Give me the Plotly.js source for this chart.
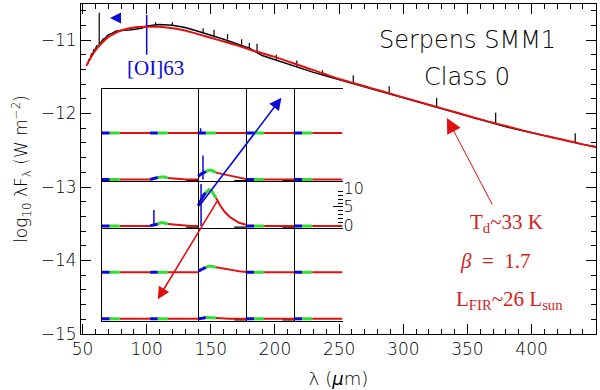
<!DOCTYPE html>
<html>
<head>
<meta charset="utf-8">
<script src="https://cdn.plot.ly/plotly-3.0.1.min.js"></script>
<style>
  html, body { margin: 0; padding: 0; background: #fff; }
  #sed { width: 600px; height: 390px; }
</style>
</head>
<body>
<div id="sed"></div>
<script>
// greybody fit (red)
const lamFit = [53, 56, 60, 65, 70, 75, 80, 90, 100, 110, 120, 130, 140, 150, 160, 170, 180, 190, 200,
  210, 220, 230, 240, 250, 260, 270, 280, 290, 300, 320, 340, 360, 380, 400, 420, 440, 452];
const logFit = [-11.35, -11.25, -11.14, -11.04, -10.96, -10.91, -10.87, -10.83, -10.82, -10.82, -10.84, -10.87, -10.92,
  -10.97, -11.02, -11.07, -11.13, -11.18, -11.23, -11.29, -11.35, -11.41, -11.47, -11.53, -11.58, -11.63, -11.68,
  -11.73, -11.78, -11.88, -11.98, -12.08, -12.17, -12.26, -12.34, -12.42, -12.46];

// observed PACS + SPIRE spectrum (black)
const lamObs = [54, 55, 56, 57, 58, 59, 60, 61, 62, 64, 66, 68, 70, 73, 76, 80, 84, 88, 92, 96, 100, 105, 110,
  120, 130, 140, 150, 160, 170, 180, 190, 200, 210, 220, 230, 240, 250, 260, 270, 280, 290, 300, 310, 320, 330,
  340, 350, 360, 370, 380, 390, 400, 410, 420, 430, 440, 452];
const logObs = [-11.33, -11.27, -11.26, -11.19, -11.19, -11.13, -11.14, -11.08, -11.09, -11.03, -10.99, -10.97,
  -10.93, -10.91, -10.88, -10.87, -10.87, -10.86, -10.85, -10.84, -10.81, -10.80, -10.79, -10.80, -10.83, -10.88,
  -10.93, -10.99, -11.05, -11.11, -11.21, -11.27, -11.33, -11.39, -11.44, -11.49, -11.54, -11.58, -11.63, -11.68,
  -11.73, -11.78, -11.83, -11.88, -11.93, -11.98, -12.04, -12.08, -12.13, -12.18, -12.22, -12.26, -12.30, -12.35,
  -12.38, -12.42, -12.46];

// emission lines on the spectrum
const lamLines  = [63, 107, 120, 144, 152.5, 163, 174, 180, 186, 201, 217, 237, 261, 289, 326, 372, 434];
const baseLines = [-11.08, -10.80, -10.80, -10.91, -10.95, -10.99, -11.06, -11.11, -11.16, -11.27, -11.36, -11.47,
  -11.58, -11.72, -11.90, -12.13, -12.39];
const topLines  = [-10.63, -10.76, -10.76, -10.84, -10.86, -10.92, -10.99, -11.04, -11.05, -11.20, -11.28, -11.41,
  -11.48, -11.63, -11.79, -11.99, -12.27];

// [OI]63 marker
const oiLam = [100, 100];
const oiLog = [-10.66, -11.20];
const oiArrowLam = [71.4];
const oiArrowLog = [-10.70];

// inset: 5x5 spaxel line maps, flux in units of the 0-10 scale
const cellFrac = [0, 0.04, 0.08, 0.12, 0.16, 0.22, 0.28, 0.34, 0.37, 0.45, 0.55, 0.65, 0.75, 0.85, 1.0];
const flat     = [0, 0, 0, 0, 0, 0, 0, 0, 0, 0, 0, 0, 0, 0, 0];
const specR1C1 = [0, 0.1, 0.3, 0.4, 0.5, 0.7, 0.7, 0.5, 0.4, 0.3, 0.1, 0.1, 0, 0, 0];
const specR1C2 = [0.8, 1.3, 1.6, 1.8, 2.1, 2.4, 2.4, 2.1, 1.8, 1.6, 1.3, 1.1, 0.8, 0.4, 0.1];
const specR2C1 = [0, 0.1, 0.3, 0.4, 0.5, 0.8, 0.8, 0.7, 0.5, 0.4, 0.3, 0.1, 0.1, 0, 0];
const specR2C2 = [5.3, 6.3, 7.1, 8.2, 8.7, 9.5, 9.2, 8.2, 7.4, 5.5, 3.7, 2.4, 1.6, 0.8, 0.3];
const specR3C2 = [0.3, 0.5, 0.8, 1.1, 1.3, 1.6, 1.6, 1.4, 1.3, 1.1, 0.8, 0.7, 0.5, 0.3, 0.1];
const specR4C2 = [0, 0, 0.1, 0.2, 0.3, 0.3, 0.3, 0.2, 0.2, 0.1, 0.1, 0, 0, 0, 0];
const cellSpectra = [
  [flat, flat, flat, flat, flat],
  [flat, specR1C1, specR1C2, flat, flat],
  [flat, specR2C1, specR2C2, flat, flat],
  [flat, flat, specR3C2, flat, flat],
  [flat, flat, specR4C2, flat, flat]
];
// line spikes: row, col, position in cell, peak flux
const spikeRow  = [0, 1, 2, 2];
const spikeCol  = [2, 2, 1, 2];
const spikeFrac = [0.05, 0.1, 0.08, 0.06];
const spikeTop  = [1.3, 6.3, 4.2, 11];
// short black continuum marks
const markRow = [1, 1, 1, 2, 2, 2, 4, 4];
const markCol = [1, 2, 3, 1, 2, 3, 2, 3];

const fluxPerRow = 12.2;
const baseLift = 0.05;
const insetDomX = [0.0407, 0.5078];
const insetDomY = [0.0394, 0.7424];

const BLUE = "#0a0ad2", GREEN = "#2ee02e", RED = "#e01010", DRED = "#d41c1c";
const NB = "\u00a0";

function cellY(r, f) { return (4 - r) + baseLift + f / fluxPerRow; }

function bandTrace(i0, i1, color, width) {
  const x = [], y = [];
  cellSpectra.forEach((row, r) => row.forEach((spec, c) => {
    for (let i = i0; i <= i1; i++) { x.push(c + cellFrac[i]); y.push(cellY(r, spec[i])); }
    x.push(null); y.push(null);
  }));
  return { x, y, xaxis: "x2", yaxis: "y2", mode: "lines", line: { color, width }, hoverinfo: "skip" };
}

const lineX = [], lineY = [];
lamLines.forEach((l, i) => { lineX.push(l, l, null); lineY.push(baseLines[i], topLines[i], null); });

const spikeX = [], spikeY = [];
spikeRow.forEach((r, i) => {
  const x = spikeCol[i] + spikeFrac[i];
  spikeX.push(x, x, null); spikeY.push(cellY(r, 0), cellY(r, spikeTop[i]), null);
});

const markX = [], markY = [];
markRow.forEach((r, i) => {
  markX.push(markCol[i] + 0.75, markCol[i] + 1, null);
  markY.push(cellY(r, 0) - 0.025, cellY(r, 0) - 0.025, null);
});

const traces = [
  { x: lamObs, y: logObs, mode: "lines", line: { color: "#000", width: 1.5 } },
  { x: lineX, y: lineY, mode: "lines", line: { color: "#000", width: 1.2 } },
  { x: oiLam, y: oiLog, mode: "lines", line: { color: BLUE, width: 1.5 } },
  { x: oiArrowLam, y: oiArrowLog, mode: "markers", marker: { symbol: "arrow-left", size: 11, color: BLUE } },
  { x: lamFit, y: logFit, mode: "lines", line: { color: RED, width: 2, shape: "spline" } },
  { x: markX, y: markY, xaxis: "x2", yaxis: "y2", mode: "lines", line: { color: "#000", width: 1.2 } },
  bandTrace(8, 14, RED, 2),
  bandTrace(4, 8, GREEN, 3),
  bandTrace(0, 4, BLUE, 3),
  { x: spikeX, y: spikeY, xaxis: "x2", yaxis: "y2", mode: "lines", line: { color: BLUE, width: 1.5 } },
  { x: [null], y: [null], xaxis: "x2", yaxis: "y3", mode: "lines" }
];

const tickFont = { family: "DejaVu Sans", size: 17, color: "#000", weight: 200 };
const fluxDom0 = insetDomY[0] + (insetDomY[1] - insetDomY[0]) / 5 * (2 + baseLift);
const fluxDom1 = fluxDom0 + (insetDomY[1] - insetDomY[0]) / 5 * (10 / fluxPerRow);

const layout = {
  width: 600, height: 390,
  margin: { l: 81, r: 4, t: 4, b: 56 },
  paper_bgcolor: "#fff", plot_bgcolor: "rgba(0,0,0,0)",
  showlegend: false,
  xaxis: {
    range: [48.8, 450.2], tickvals: [50, 100, 150, 200, 250, 300, 350, 400],
    ticks: "inside", ticklen: 10, tickcolor: "#000", mirror: "allticks",
    showline: true, linecolor: "#000", linewidth: 1, showgrid: false, zeroline: false,
    minor: { tickmode: "linear", tick0: 0, dtick: 10, ticks: "inside", ticklen: 5, tickcolor: "#000" },
    tickfont: tickFont,
    title: { text: "λ (<i>μ</i>m)", font: { family: "DejaVu Sans", size: 18, color: "#000", weight: 200 }, standoff: 13 }
  },
  yaxis: {
    range: [-15, -10.51], tickvals: [-15, -14, -13, -12, -11],
    ticks: "inside", ticklen: 10, tickcolor: "#000", mirror: "allticks",
    showline: true, linecolor: "#000", linewidth: 1, showgrid: false, zeroline: false,
    minor: { tickmode: "linear", tick0: 0, dtick: 0.2, ticks: "inside", ticklen: 5, tickcolor: "#000" },
    tickfont: tickFont,
    title: { text: "log<sub>10</sub> λF<sub>λ</sub> (W m<sup>−2</sup>)", font: { family: "DejaVu Sans", size: 17, color: "#000", weight: 200 }, standoff: 8 }
  },
  xaxis2: {
    domain: insetDomX, anchor: "y2", range: [0, 5],
    showline: true, mirror: true, linecolor: "#000", linewidth: 1.2,
    tickvals: [2, 3, 4], showticklabels: false, ticks: "",
    showgrid: true, gridcolor: "#000", gridwidth: 1.2, zeroline: false
  },
  yaxis2: {
    domain: insetDomY, anchor: "x2", range: [0, 5],
    showline: true, linecolor: "#000", linewidth: 1.2,
    tickvals: [2, 3], showticklabels: false, ticks: "",
    showgrid: true, gridcolor: "#000", gridwidth: 1.2, zeroline: false
  },
  yaxis3: {
    domain: [fluxDom0, fluxDom1], anchor: "x2", side: "right", range: [-0.01, 10.01],
    tickvals: [0, 5, 10], ticks: "inside", ticklen: 10, tickcolor: "#000",
    minor: { tickmode: "linear", tick0: 0, dtick: 1, ticks: "inside", ticklen: 5, tickcolor: "#000" },
    showline: false, showgrid: false, zeroline: false,
    tickfont: { family: "DejaVu Sans", size: 16, color: "#000", weight: 200 }
  },
  annotations: [
    { x: 349.7, y: -11.0, text: "Serpens SMM1", showarrow: false,
      font: { family: "DejaVu Sans", size: 24, color: "#000", weight: 200 } },
    { x: 349.7, y: -11.5, text: "Class 0", showarrow: false,
      font: { family: "DejaVu Sans", size: 24, color: "#000", weight: 200 } },
    { x: 106.5, y: -11.38, text: "[OI]63", showarrow: false,
      font: { family: "Liberation Serif", size: 21, color: BLUE } },
    { x: 380.8, y: -13.49, text: "T<sub>d</sub>~33" + NB + "K", showarrow: false,
      font: { family: "Liberation Serif", size: 21, color: DRED } },
    { x: 371.5, y: -14.01, text: "<i>β</i>" + NB + NB + "=" + NB + NB + "1.7", showarrow: false,
      font: { family: "Liberation Serif", size: 21, color: DRED } },
    { x: 383, y: -14.54, text: "L<sub>FIR</sub>~26" + NB + "L<sub>sun</sub>", showarrow: false,
      font: { family: "Liberation Serif", size: 21, color: DRED } },
    { x: 334, y: -12.06, ax: 370, ay: -13.26, axref: "x", ayref: "y", text: "", showarrow: true,
      arrowhead: 2, arrowsize: 3, arrowwidth: 1, arrowcolor: RED, standoff: 0 },
    { x: 3.73, y: 4.81, ax: 2.01, ay: 2.46, xref: "x2", yref: "y2", axref: "x2", ayref: "y2", text: "",
      showarrow: true, arrowhead: 2, arrowsize: 1.5, arrowwidth: 1.6, arrowcolor: BLUE, standoff: 0 },
    { x: 1.16, y: 0.47, ax: 2.41, ay: 2.61, xref: "x2", yref: "y2", axref: "x2", ayref: "y2", text: "",
      showarrow: true, arrowhead: 2, arrowsize: 1.5, arrowwidth: 1.6, arrowcolor: RED, standoff: 0 }
  ]
};

Plotly.newPlot("sed", traces, layout, { displayModeBar: false, staticPlot: true });
</script>
</body>
</html>
